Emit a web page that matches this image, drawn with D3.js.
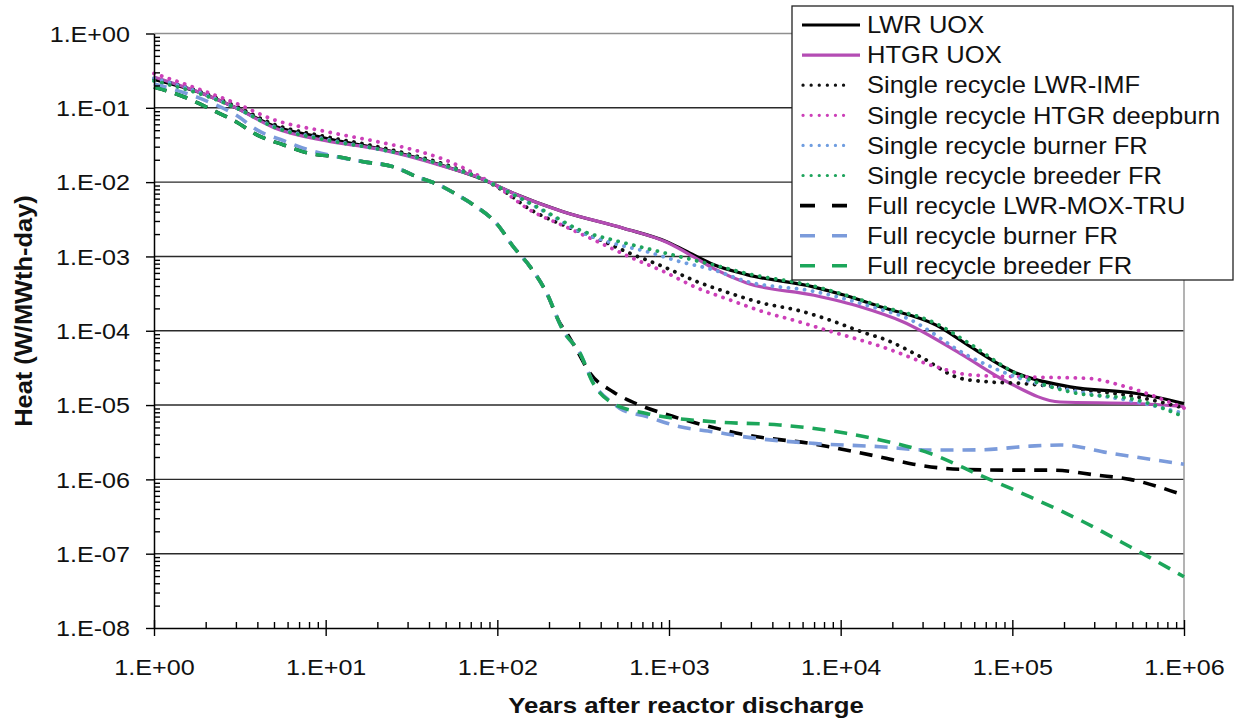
<!DOCTYPE html>
<html><head><meta charset="utf-8">
<script src="https://cdn.jsdelivr.net/npm/d3@7"></script>
<style>body{margin:0;background:#fff}svg{display:block}</style>
</head><body><svg id="c" width="1237" height="723"></svg>
<script>
// ---------- data ----------
const xTickValues = [1, 10, 100, 1e3, 1e4, 1e5, 1e6];
const xTickLabels = ["1.E+00","1.E+01","1.E+02","1.E+03","1.E+04","1.E+05","1.E+06"];
const yTickValues = [1, 1e-1, 1e-2, 1e-3, 1e-4, 1e-5, 1e-6, 1e-7, 1e-8];
const yTickLabels = ["1.E+00","1.E-01","1.E-02","1.E-03","1.E-04","1.E-05","1.E-06","1.E-07","1.E-08"];
const seriesNames = ["LWR UOX","HTGR UOX","Single recycle LWR-IMF","Single recycle HTGR deepburn",
  "Single recycle burner FR","Single recycle breeder FR","Full recycle LWR-MOX-TRU",
  "Full recycle burner FR","Full recycle breeder FR"];
const xTitle = "Years after reactor discharge";
const yTitle = "Heat (W/MWth-day)";

const lwrUox = [[1,0.24],[2,0.15],[3,0.1],[5,0.057],[10,0.039],[20,0.0285],[30,0.023],[50,0.0162],[80,0.0112],[124,0.0071],[242,0.0040],[542,0.0024],[970,0.00158],[1400,0.00104],[1812,0.00078],[2836,0.00057],[6920,0.00039],[10800,0.000295],[17000,0.00021],[36000,0.000119],[57000,6.1e-5],[101000,2.8e-5],[217000,1.76e-5],[530000,1.43e-5],[1e6,1.05e-5]];
const htgrUox = [[1,0.26],[2,0.15],[3,0.1],[5,0.054],[10,0.036],[20,0.028],[30,0.0225],[50,0.016],[80,0.0113],[124,0.0071],[242,0.0040],[542,0.0024],[970,0.00155],[1400,0.00098],[1812,0.00069],[2836,0.00044],[7000,0.0003],[13000,0.00021],[23000,0.000132],[49500,4.97e-5],[93000,2.06e-5],[190000,1.1e-5],[530000,1.05e-5],[1e6,9.5e-6]];
const singleLwrImf = [[1,0.245],[2,0.155],[3,0.105],[5,0.06],[10,0.041],[20,0.03],[30,0.024],[50,0.0172],[80,0.0112],[110,0.0075],[155,0.0043],[242,0.00265],[379,0.00175],[593,0.0011],[926,0.00073],[1450,0.00046],[2266,0.00032],[3540,0.000234],[5540,0.00019],[8660,0.000139],[13550,9.5e-5],[18500,7.5e-5],[29000,4.5e-5],[49500,2.3e-5],[71000,2.06e-5],[111000,1.96e-5],[271000,1.58e-5],[530000,1.29e-5],[1e6,9.1e-6]];
const singleHtgrDeepburn = [[1,0.29],[2,0.165],[3,0.115],[5,0.069],[10,0.048],[20,0.035],[30,0.0285],[50,0.0198],[80,0.0118],[100,0.0087],[155,0.0042],[242,0.0026],[379,0.0016],[593,0.00098],[926,0.00063],[1450,0.00038],[2266,0.00026],[3540,0.00018],[5540,0.000135],[7590,0.000108],[18500,5.8e-5],[36000,3.27e-5],[57000,2.54e-5],[111000,2.4e-5],[271000,2.29e-5],[460000,1.76e-5],[1e6,9.1e-6]];
const singleBurnerFr = [[1,0.25],[2,0.15],[3,0.1],[5,0.056],[10,0.038],[20,0.028],[30,0.023],[50,0.0165],[80,0.0112],[124,0.0068],[200,0.0037],[303,0.00215],[474,0.0015],[741,0.00116],[1160,0.00085],[1812,0.00066],[2836,0.00046],[6920,0.00034],[16950,0.000195],[23170,0.000155],[56650,4.47e-5],[110000,2.3e-5],[270000,1.44e-5],[530000,1.1e-5],[1e6,7.7e-6]];
const singleBreederFr = [[1,0.23],[2,0.145],[3,0.1],[5,0.055],[10,0.037],[20,0.028],[30,0.023],[50,0.0165],[80,0.0112],[124,0.0068],[200,0.0038],[303,0.00226],[474,0.00166],[741,0.00128],[1160,0.00099],[1812,0.00077],[2836,0.00059],[6920,0.0004],[10800,0.0003],[17000,0.000215],[36000,0.000125],[57000,6.6e-5],[101000,2.8e-5],[217000,1.5e-5],[530000,1.17e-5],[1e6,6.95e-6]];
const fullLwrMoxTru = [[1,0.19],[1.5,0.14],[2.1,0.098],[3,0.065],[4,0.043],[5.7,0.0316],[8,0.0244],[11.6,0.022],[16.6,0.0188],[25,0.016],[34,0.0118],[46,0.0091],[58,0.0068],[73,0.0049],[100,0.0027],[124,0.00135],[155,0.00073],[194,0.00032],[230,0.00013],[254,9.2e-5],[290,5.5e-5],[346,2.7e-5],[474,1.5e-5],[675,1e-5],[926,7.7e-6],[1450,5.7e-6],[2836,3.95e-6],[6920,3.0e-6],[17000,2.0e-6],[26500,1.6e-6],[51800,1.36e-6],[101000,1.33e-6],[173000,1.33e-6],[310000,1.14e-6],[485000,1e-6],[1e6,6.1e-7]];
const fullBurnerFr = [[1,0.21],[2,0.125],[3,0.08],[4,0.05],[5.7,0.036],[8,0.027],[11.6,0.022],[16.6,0.0188],[25,0.016],[34,0.0118],[46,0.0091],[58,0.0068],[73,0.0049],[100,0.0027],[124,0.00135],[155,0.00073],[194,0.00032],[242,0.0001],[303,5e-5],[362,2e-5],[474,1.05e-5],[517,9e-6],[741,7e-6],[1160,5.1e-6],[1812,4.37e-6],[2836,3.7e-6],[6920,3.05e-6],[17000,2.75e-6],[33100,2.48e-6],[64700,2.5e-6],[127000,2.8e-6],[190000,2.9e-6],[380000,2.24e-6],[1e6,1.6e-6]];
const fullBreederFr = [[1,0.19],[1.5,0.14],[2.1,0.098],[3,0.065],[4,0.043],[5.7,0.0316],[8,0.0244],[11.6,0.022],[16.6,0.0188],[25,0.016],[34,0.0118],[46,0.0091],[58,0.0068],[73,0.0049],[100,0.0027],[124,0.00135],[155,0.00073],[194,0.00032],[242,0.0001],[303,5e-5],[362,1.96e-5],[474,1.05e-5],[741,7.7e-6],[1812,5.96e-6],[4400,5.4e-6],[10800,4.17e-6],[17000,3.39e-6],[33100,2.24e-6],[64700,1.14e-6],[127000,5.8e-7],[248000,2.83e-7],[485000,1.24e-7],[1e6,4.9e-8]];

const seriesData = [lwrUox, htgrUox, singleLwrImf, singleHtgrDeepburn, singleBurnerFr, singleBreederFr, fullLwrMoxTru, fullBurnerFr, fullBreederFr];

// ---------- styles ----------
const styles = [
  {color:"#000000", kind:"solid"},
  {color:"#b44db4", kind:"solid"},
  {color:"#111111", kind:"dot"},
  {color:"#cc3fb8", kind:"dot"},
  {color:"#6f9de0", kind:"dot"},
  {color:"#1ea45c", kind:"dot"},
  {color:"#000000", kind:"dash"},
  {color:"#7b9bdb", kind:"dash"},
  {color:"#1ca65a", kind:"dash"}
];
const FONT = "'Liberation Sans', Arial, sans-serif";
const SX = 1.17;

const svg = d3.select("#c");
svg.append("rect").attr("width",1237).attr("height",723).attr("fill","#fff");

const x = d3.scaleLog().domain([1,1e6]).range([154,1184]);
const y = d3.scaleLog().domain([1e-8,1]).range([628,33.5]);

// gridlines
svg.append("g").selectAll("line").data(yTickValues.filter(v=>v<1 && v>1e-8)).join("line")
  .attr("x1",x(1)).attr("x2",x(1e6)).attr("y1",d=>y(d)).attr("y2",d=>y(d))
  .attr("stroke","#2a2a2a").attr("stroke-width",1.4);
// top and right border
svg.append("line").attr("x1",x(1)).attr("x2",x(1e6)).attr("y1",y(1)).attr("y2",y(1))
  .attr("stroke","#8f8f8f").attr("stroke-width",1.5);
svg.append("line").attr("x1",x(1e6)).attr("x2",x(1e6)).attr("y1",y(1)).attr("y2",y(1e-8))
  .attr("stroke","#9a9a9a").attr("stroke-width",1.5);

// minor ticks
const minors = [];
for (let e=-8;e<0;e++) for (let k=2;k<=9;k++) minors.push(k*Math.pow(10,e));
const xMinors = [];
for (let e=0;e<6;e++) for (let k=2;k<=9;k++) xMinors.push(k*Math.pow(10,e));

// series
const line = d3.line().x(d=>x(d[0])).y(d=>y(d[1])).curve(d3.curveMonotoneX);
const gS = svg.append("g");
seriesData.forEach((data,i)=>{
  const st = styles[i];
  const p = gS.append("path").attr("d",line(data)).attr("fill","none").attr("stroke",st.color);
  if (st.kind==="solid") p.attr("stroke-width",3.2).attr("stroke-linejoin","round");
  else if (st.kind==="dot") p.attr("stroke-width",3.8).attr("stroke-dasharray","0.1,8").attr("stroke-linecap","round");
  else p.attr("stroke-width",3.6).attr("stroke-dasharray","13,9");
});

// axes
const gY = svg.append("g").attr("transform",`translate(${x(1)},0)`)
  .call(d3.axisLeft(y).tickValues(yTickValues).tickFormat((d,i)=>yTickLabels[i]).tickSizeInner(8).tickSizeOuter(0));
const gYm = svg.append("g").attr("transform",`translate(${x(1)},0)`)
  .call(d3.axisRight(y).tickValues(minors).tickFormat("").tickSize(6));
gYm.select(".domain").remove();
const gX = svg.append("g").attr("transform",`translate(0,${y(1e-8)})`)
  .call(d3.axisBottom(x).tickValues(xTickValues).tickFormat((d,i)=>xTickLabels[i]).tickSizeInner(8).tickSizeOuter(0));
const gXu = svg.append("g").attr("transform",`translate(0,${y(1e-8)})`)
  .call(d3.axisTop(x).tickValues(xTickValues).tickFormat("").tickSize(8));
gXu.select(".domain").remove();
const gXm = svg.append("g").attr("transform",`translate(0,${y(1e-8)})`)
  .call(d3.axisTop(x).tickValues(xMinors).tickFormat("").tickSize(6));
gXm.select(".domain").remove();
[gY,gYm,gX,gXu,gXm].forEach(g=>{
  g.selectAll(".domain").attr("stroke","#000").attr("stroke-width",1.5);
  g.selectAll(".tick line").attr("stroke","#000").attr("stroke-width",1.4);
});
gY.selectAll(".tick text").attr("font-family",FONT).attr("font-size",21.5).attr("fill","#111")
  .attr("x",-24/SX).attr("dy","0.36em").attr("transform",`scale(${SX},1)`);
gX.selectAll(".tick text").attr("font-family",FONT).attr("font-size",21.5).attr("fill","#111")
  .attr("y",47).attr("dy",0).attr("transform",`scale(${SX},1)`);

// titles
svg.append("text").attr("font-family",FONT).attr("font-weight","bold").attr("font-size",21.5)
  .attr("fill","#111").attr("text-anchor","middle")
  .attr("transform","translate(686,713) scale(1.2,1)").text(xTitle);
svg.append("text").attr("font-family",FONT).attr("font-weight","bold").attr("font-size",24)
  .attr("fill","#111").attr("text-anchor","middle")
  .attr("transform","translate(32,311) rotate(-90) scale(1.06,1)").text(yTitle);

// legend
const lg = svg.append("g");
lg.append("rect").attr("x",792).attr("y",6).attr("width",441).attr("height",274)
  .attr("fill","#fff").attr("stroke","#222").attr("stroke-width",1.3);
seriesNames.forEach((name,i)=>{
  const st = styles[i];
  const cy = 25 + i*30.1;
  const l = lg.append("line").attr("y1",cy).attr("y2",cy).attr("stroke",st.color);
  if (st.kind==="solid") l.attr("x1",802).attr("x2",860).attr("stroke-width",3.2);
  else if (st.kind==="dot") l.attr("x1",803).attr("x2",851).attr("stroke-width",3.2).attr("stroke-dasharray","0.1,8").attr("stroke-linecap","round");
  else l.attr("x1",800).attr("x2",850).attr("stroke-width",3.6).attr("stroke-dasharray","15,17");
  lg.append("text").attr("font-family",FONT).attr("font-size",23).attr("fill","#111")
    .attr("transform",`translate(867,${cy+8.2}) scale(1.11,1)`).text(name);
});
</script></body></html>
